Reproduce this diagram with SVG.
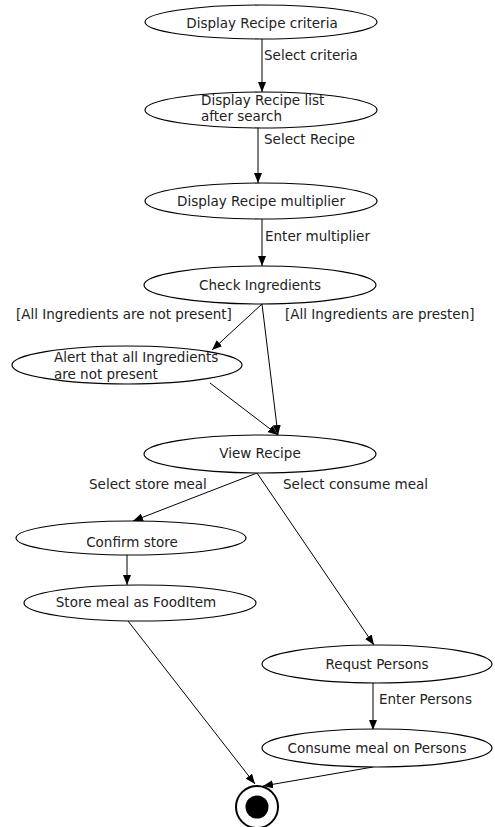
<svg xmlns="http://www.w3.org/2000/svg" width="495" height="827" viewBox="0 0 495 827">
  <style>
    .node ellipse { fill: #ffffff; stroke: #000000; stroke-width: 1.2; }
    text { font-family: "DejaVu Sans", "Liberation Sans", sans-serif; font-size: 13.5px; fill: #222222; }
    .c { text-anchor: middle; dominant-baseline: central; }
    .l { text-anchor: start; dominant-baseline: central; }
    #edges line { stroke: #000000; stroke-width: 1; marker-end: url(#arrow); }
  </style>
  <defs>
    <marker id="arrow" viewBox="0 0 10 8" refX="10" refY="4" markerWidth="10" markerHeight="8" markerUnits="userSpaceOnUse" orient="auto">
      <path d="M0,0 L10,4 L0,8 Z" fill="#000000"/>
    </marker>
  </defs>
  <rect width="495" height="827" fill="#ffffff"/>

  <!-- connectors -->
  <g id="edges">
    <line x1="262" y1="39" x2="262" y2="92"/>
    <line x1="258" y1="128" x2="258" y2="183"/>
    <line x1="262" y1="219" x2="262" y2="266"/>
    <line x1="262" y1="304" x2="212" y2="350"/>
    <line x1="262" y1="304" x2="278" y2="435"/>
    <line x1="210" y1="383" x2="278" y2="435"/>
    <line x1="257" y1="473" x2="133" y2="521"/>
    <line x1="257" y1="473" x2="374" y2="645"/>
    <line x1="127" y1="554" x2="127" y2="585"/>
    <line x1="128" y1="621" x2="255" y2="784"/>
    <line x1="373" y1="682" x2="373" y2="730"/>
    <line x1="373" y1="767" x2="263" y2="786"/>
  </g>

  <!-- transition labels -->
  <g id="labels">
    <text class="l" x="264" y="55">Select criteria</text>
    <text class="l" x="264" y="139">Select Recipe</text>
    <text class="l" x="265" y="236">Enter multiplier</text>
    <text class="l" x="16" y="314">[All Ingredients are not present]</text>
    <text class="l" x="285" y="314">[All Ingredients are presten]</text>
    <text class="l" x="89" y="484">Select store meal</text>
    <text class="l" x="283" y="484">Select consume meal</text>
    <text class="l" x="379" y="699">Enter Persons</text>
  </g>

  <!-- activity states -->
  <g id="display-criteria" class="node">
    <ellipse cx="261" cy="22" rx="116" ry="17"/>
    <text class="c" x="262" y="23">Display Recipe criteria</text>
  </g>
  <g id="display-list" class="node">
    <ellipse cx="261" cy="110" rx="116" ry="18"/>
    <text class="l" x="201" y="100">Display Recipe list</text>
    <text class="l" x="201" y="116">after search</text>
  </g>
  <g id="display-multiplier" class="node">
    <ellipse cx="261" cy="201" rx="116" ry="18"/>
    <text class="c" x="261" y="201">Display Recipe multiplier</text>
  </g>
  <g id="check-ingredients" class="node">
    <ellipse cx="260" cy="285" rx="116" ry="19"/>
    <text class="c" x="260" y="285">Check Ingredients</text>
  </g>
  <g id="alert" class="node">
    <ellipse cx="127" cy="365" rx="115" ry="19"/>
    <text class="l" x="54" y="357">Alert that all Ingredients</text>
    <text class="l" x="54" y="374">are not present</text>
  </g>
  <g id="view-recipe" class="node">
    <ellipse cx="260" cy="454" rx="116" ry="19"/>
    <text class="c" x="260" y="453">View Recipe</text>
  </g>
  <g id="confirm-store" class="node">
    <ellipse cx="131" cy="538" rx="115" ry="17"/>
    <text class="c" x="132" y="542">Confirm store</text>
  </g>
  <g id="store-meal" class="node">
    <ellipse cx="140" cy="603" rx="116" ry="18"/>
    <text class="c" x="136" y="602">Store meal as FoodItem</text>
  </g>
  <g id="request-persons" class="node">
    <ellipse cx="377" cy="664" rx="115" ry="19"/>
    <text class="c" x="377" y="664">Requst Persons</text>
  </g>
  <g id="consume-meal" class="node">
    <ellipse cx="377" cy="748" rx="115" ry="19"/>
    <text class="c" x="377" y="748">Consume meal on Persons</text>
  </g>
  <g id="final" class="node">
    <circle cx="257" cy="807" r="21" fill="#ffffff" stroke="#000000" stroke-width="2"/>
    <circle cx="257" cy="807" r="11.5" fill="#000000"/>
  </g>
</svg>
